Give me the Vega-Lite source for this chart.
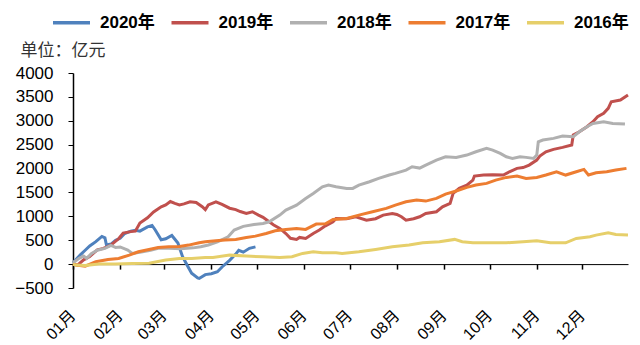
{
  "$schema": "https://vega.github.io/schema/vega-lite/v6.json",
  "autosize": {"type": "none"},
  "padding": {"left": 73, "top": 73, "right": 12, "bottom": 57},
  "width": 555,
  "height": 215,
  "background": "white",
  "config": {"view": {"stroke": null}, "font": "Liberation Sans, Noto Sans CJK SC"},
  "data": {"values": [
    {"s":"2020年","d":"2020/01/01","v":30},{"s":"2020年","d":"2020/01/06","v":200},{"s":"2020年","d":"2020/01/09","v":290},{"s":"2020年","d":"2020/01/12","v":380},{"s":"2020年","d":"2020/01/16","v":470},{"s":"2020年","d":"2020/01/20","v":580},{"s":"2020年","d":"2020/01/22","v":550},{"s":"2020年","d":"2020/01/23","v":400},{"s":"2020年","d":"2020/01/26","v":420},{"s":"2020年","d":"2020/01/29","v":500},{"s":"2020年","d":"2020/02/01","v":540},{"s":"2020年","d":"2020/02/04","v":640},{"s":"2020年","d":"2020/02/08","v":690},{"s":"2020年","d":"2020/02/11","v":710},{"s":"2020年","d":"2020/02/14","v":690},{"s":"2020年","d":"2020/02/19","v":780},{"s":"2020年","d":"2020/02/22","v":810},{"s":"2020年","d":"2020/02/24","v":720},{"s":"2020年","d":"2020/02/28","v":510},{"s":"2020年","d":"2020/03/02","v":530},{"s":"2020年","d":"2020/03/06","v":600},{"s":"2020年","d":"2020/03/10","v":440},{"s":"2020年","d":"2020/03/13","v":160},{"s":"2020年","d":"2020/03/16","v":-20},{"s":"2020年","d":"2020/03/19","v":-190},{"s":"2020年","d":"2020/03/23","v":-290},{"s":"2020年","d":"2020/03/24","v":-300},{"s":"2020年","d":"2020/03/28","v":-220},{"s":"2020年","d":"2020/04/01","v":-200},{"s":"2020年","d":"2020/04/05","v":-160},{"s":"2020年","d":"2020/04/08","v":-60},{"s":"2020年","d":"2020/04/13","v":80},{"s":"2020年","d":"2020/04/17","v":210},{"s":"2020年","d":"2020/04/19","v":290},{"s":"2020年","d":"2020/04/22","v":250},{"s":"2020年","d":"2020/04/26","v":330},{"s":"2020年","d":"2020/04/30","v":360},

    {"s":"2019年","d":"2020/01/01","v":0},{"s":"2019年","d":"2020/01/04","v":-20},{"s":"2019年","d":"2020/01/08","v":90},{"s":"2019年","d":"2020/01/12","v":160},{"s":"2019年","d":"2020/01/17","v":300},{"s":"2019年","d":"2020/01/21","v":330},{"s":"2019年","d":"2020/01/26","v":400},{"s":"2019年","d":"2020/01/31","v":530},{"s":"2019年","d":"2020/02/03","v":650},{"s":"2019年","d":"2020/02/08","v":680},{"s":"2019年","d":"2020/02/11","v":690},{"s":"2019年","d":"2020/02/14","v":860},{"s":"2019年","d":"2020/02/19","v":970},{"s":"2019年","d":"2020/02/23","v":1090},{"s":"2019年","d":"2020/02/28","v":1200},{"s":"2019年","d":"2020/03/02","v":1240},{"s":"2019年","d":"2020/03/05","v":1310},{"s":"2019年","d":"2020/03/08","v":1270},{"s":"2019年","d":"2020/03/11","v":1240},{"s":"2019年","d":"2020/03/14","v":1260},{"s":"2019年","d":"2020/03/18","v":1305},{"s":"2019年","d":"2020/03/22","v":1290},{"s":"2019年","d":"2020/03/26","v":1200},{"s":"2019年","d":"2020/03/28","v":1140},{"s":"2019年","d":"2020/03/30","v":1240},{"s":"2019年","d":"2020/04/04","v":1305},{"s":"2019年","d":"2020/04/08","v":1250},{"s":"2019年","d":"2020/04/13","v":1170},{"s":"2019年","d":"2020/04/17","v":1140},{"s":"2019年","d":"2020/04/20","v":1100},{"s":"2019年","d":"2020/04/24","v":1060},{"s":"2019年","d":"2020/04/28","v":1096},{"s":"2019年","d":"2020/05/02","v":1026},{"s":"2019年","d":"2020/05/05","v":980},{"s":"2019年","d":"2020/05/09","v":886},{"s":"2019年","d":"2020/05/12","v":820},{"s":"2019年","d":"2020/05/16","v":747},{"s":"2019年","d":"2020/05/20","v":640},{"s":"2019年","d":"2020/05/23","v":540},{"s":"2019年","d":"2020/05/27","v":517},{"s":"2019年","d":"2020/05/29","v":559},{"s":"2019年","d":"2020/06/02","v":538},{"s":"2019年","d":"2020/06/07","v":642},{"s":"2019年","d":"2020/06/11","v":712},{"s":"2019年","d":"2020/06/15","v":800},{"s":"2019年","d":"2020/06/20","v":886},{"s":"2019年","d":"2020/06/22","v":956},{"s":"2019年","d":"2020/06/29","v":950},{"s":"2019年","d":"2020/07/05","v":990},{"s":"2019年","d":"2020/07/12","v":921},{"s":"2019年","d":"2020/07/18","v":950},{"s":"2019年","d":"2020/07/23","v":1026},{"s":"2019年","d":"2020/07/29","v":1061},{"s":"2019年","d":"2020/08/01","v":1040},{"s":"2019年","d":"2020/08/04","v":991},{"s":"2019年","d":"2020/08/07","v":921},{"s":"2019年","d":"2020/08/12","v":950},{"s":"2019年","d":"2020/08/16","v":991},{"s":"2019年","d":"2020/08/20","v":1061},{"s":"2019年","d":"2020/08/27","v":1096},{"s":"2019年","d":"2020/08/31","v":1200},{"s":"2019年","d":"2020/09/05","v":1270},{"s":"2019年","d":"2020/09/07","v":1480},{"s":"2019年","d":"2020/09/11","v":1585},{"s":"2019年","d":"2020/09/16","v":1654},{"s":"2019年","d":"2020/09/20","v":1759},{"s":"2019年","d":"2020/09/21","v":1843},{"s":"2019年","d":"2020/09/27","v":1864},{"s":"2019年","d":"2020/10/03","v":1870},{"s":"2019年","d":"2020/10/10","v":1864},{"s":"2019年","d":"2020/10/14","v":1933},{"s":"2019年","d":"2020/10/19","v":2004},{"s":"2019年","d":"2020/10/23","v":2020},{"s":"2019年","d":"2020/10/27","v":2073},{"s":"2019年","d":"2020/11/01","v":2178},{"s":"2019年","d":"2020/11/03","v":2261},{"s":"2019年","d":"2020/11/07","v":2352},{"s":"2019年","d":"2020/11/12","v":2401},{"s":"2019年","d":"2020/11/18","v":2443},{"s":"2019年","d":"2020/11/24","v":2492},{"s":"2019年","d":"2020/11/25","v":2701},{"s":"2019年","d":"2020/11/29","v":2770},{"s":"2019年","d":"2020/12/04","v":2875},{"s":"2019年","d":"2020/12/08","v":2980},{"s":"2019年","d":"2020/12/11","v":3084},{"s":"2019年","d":"2020/12/15","v":3155},{"s":"2019年","d":"2020/12/18","v":3260},{"s":"2019年","d":"2020/12/20","v":3399},{"s":"2019年","d":"2020/12/26","v":3434},{"s":"2019年","d":"2020/12/31","v":3539},

    {"s":"2018年","d":"2020/01/01","v":30},{"s":"2018年","d":"2020/01/05","v":120},{"s":"2018年","d":"2020/01/08","v":170},{"s":"2018年","d":"2020/01/10","v":120},{"s":"2018年","d":"2020/01/13","v":220},{"s":"2018年","d":"2020/01/17","v":290},{"s":"2018年","d":"2020/01/22","v":330},{"s":"2018年","d":"2020/01/26","v":390},{"s":"2018年","d":"2020/01/29","v":350},{"s":"2018年","d":"2020/02/01","v":360},{"s":"2018年","d":"2020/02/06","v":293},{"s":"2018年","d":"2020/02/09","v":224},{"s":"2018年","d":"2020/02/14","v":250},{"s":"2018年","d":"2020/02/21","v":290},{"s":"2018年","d":"2020/02/26","v":330},{"s":"2018年","d":"2020/03/04","v":330},{"s":"2018年","d":"2020/03/12","v":320},{"s":"2018年","d":"2020/03/20","v":340},{"s":"2018年","d":"2020/03/25","v":362},{"s":"2018年","d":"2020/03/30","v":400},{"s":"2018年","d":"2020/04/05","v":467},{"s":"2018年","d":"2020/04/12","v":572},{"s":"2018年","d":"2020/04/16","v":712},{"s":"2018年","d":"2020/04/22","v":790},{"s":"2018年","d":"2020/04/29","v":830},{"s":"2018年","d":"2020/05/05","v":851},{"s":"2018年","d":"2020/05/09","v":886},{"s":"2018年","d":"2020/05/16","v":1026},{"s":"2018年","d":"2020/05/20","v":1131},{"s":"2018年","d":"2020/05/27","v":1235},{"s":"2018年","d":"2020/06/02","v":1375},{"s":"2018年","d":"2020/06/07","v":1480},{"s":"2018年","d":"2020/06/13","v":1619},{"s":"2018年","d":"2020/06/17","v":1654},{"s":"2018年","d":"2020/06/22","v":1619},{"s":"2018年","d":"2020/06/29","v":1585},{"s":"2018年","d":"2020/07/03","v":1585},{"s":"2018年","d":"2020/07/07","v":1654},{"s":"2018年","d":"2020/07/14","v":1724},{"s":"2018年","d":"2020/07/20","v":1794},{"s":"2018年","d":"2020/07/27","v":1864},{"s":"2018年","d":"2020/07/31","v":1899},{"s":"2018年","d":"2020/08/07","v":1968},{"s":"2018年","d":"2020/08/11","v":2038},{"s":"2018年","d":"2020/08/16","v":2010},{"s":"2018年","d":"2020/08/20","v":2073},{"s":"2018年","d":"2020/08/27","v":2178},{"s":"2018年","d":"2020/09/02","v":2247},{"s":"2018年","d":"2020/09/09","v":2234},{"s":"2018年","d":"2020/09/16","v":2282},{"s":"2018年","d":"2020/09/22","v":2352},{"s":"2018年","d":"2020/09/29","v":2422},{"s":"2018年","d":"2020/10/03","v":2387},{"s":"2018年","d":"2020/10/08","v":2318},{"s":"2018年","d":"2020/10/12","v":2247},{"s":"2018年","d":"2020/10/16","v":2213},{"s":"2018年","d":"2020/10/21","v":2247},{"s":"2018年","d":"2020/10/25","v":2234},{"s":"2018年","d":"2020/10/30","v":2213},{"s":"2018年","d":"2020/11/01","v":2282},{"s":"2018年","d":"2020/11/02","v":2561},{"s":"2018年","d":"2020/11/05","v":2597},{"s":"2018年","d":"2020/11/12","v":2632},{"s":"2018年","d":"2020/11/18","v":2680},{"s":"2018年","d":"2020/11/25","v":2666},{"s":"2018年","d":"2020/11/29","v":2770},{"s":"2018年","d":"2020/12/04","v":2875},{"s":"2018年","d":"2020/12/08","v":2945},{"s":"2018年","d":"2020/12/15","v":2980},{"s":"2018年","d":"2020/12/21","v":2945},{"s":"2018年","d":"2020/12/29","v":2931},

    {"s":"2017年","d":"2020/01/01","v":0},{"s":"2017年","d":"2020/01/03","v":-21},{"s":"2017年","d":"2020/01/09","v":-42},{"s":"2017年","d":"2020/01/16","v":48},{"s":"2017年","d":"2020/01/24","v":98},{"s":"2017年","d":"2020/01/31","v":119},{"s":"2017年","d":"2020/02/07","v":188},{"s":"2017年","d":"2020/02/13","v":258},{"s":"2017年","d":"2020/02/20","v":307},{"s":"2017年","d":"2020/02/26","v":349},{"s":"2017年","d":"2020/03/04","v":362},{"s":"2017年","d":"2020/03/11","v":370},{"s":"2017年","d":"2020/03/17","v":398},{"s":"2017年","d":"2020/03/24","v":446},{"s":"2017年","d":"2020/03/28","v":470},{"s":"2017年","d":"2020/04/04","v":488},{"s":"2017年","d":"2020/04/10","v":503},{"s":"2017年","d":"2020/04/17","v":517},{"s":"2017年","d":"2020/04/24","v":559},{"s":"2017年","d":"2020/04/30","v":586},{"s":"2017年","d":"2020/05/07","v":642},{"s":"2017年","d":"2020/05/13","v":698},{"s":"2017年","d":"2020/05/20","v":726},{"s":"2017年","d":"2020/05/27","v":747},{"s":"2017年","d":"2020/06/02","v":726},{"s":"2017年","d":"2020/06/09","v":838},{"s":"2017年","d":"2020/06/15","v":845},{"s":"2017年","d":"2020/06/20","v":935},{"s":"2017年","d":"2020/06/29","v":956},{"s":"2017年","d":"2020/07/07","v":1026},{"s":"2017年","d":"2020/07/16","v":1096},{"s":"2017年","d":"2020/07/25","v":1166},{"s":"2017年","d":"2020/07/31","v":1235},{"s":"2017年","d":"2020/08/07","v":1305},{"s":"2017年","d":"2020/08/14","v":1340},{"s":"2017年","d":"2020/08/20","v":1319},{"s":"2017年","d":"2020/08/27","v":1375},{"s":"2017年","d":"2020/09/02","v":1466},{"s":"2017年","d":"2020/09/09","v":1530},{"s":"2017年","d":"2020/09/16","v":1606},{"s":"2017年","d":"2020/09/22","v":1654},{"s":"2017年","d":"2020/09/29","v":1690},{"s":"2017年","d":"2020/10/05","v":1759},{"s":"2017年","d":"2020/10/12","v":1815},{"s":"2017年","d":"2020/10/19","v":1843},{"s":"2017年","d":"2020/10/25","v":1794},{"s":"2017年","d":"2020/11/01","v":1815},{"s":"2017年","d":"2020/11/07","v":1864},{"s":"2017年","d":"2020/11/14","v":1933},{"s":"2017年","d":"2020/11/20","v":1864},{"s":"2017年","d":"2020/11/27","v":1933},{"s":"2017年","d":"2020/12/02","v":1982},{"s":"2017年","d":"2020/12/05","v":1864},{"s":"2017年","d":"2020/12/10","v":1912},{"s":"2017年","d":"2020/12/17","v":1933},{"s":"2017年","d":"2020/12/23","v":1968},{"s":"2017年","d":"2020/12/30","v":2004},

    {"s":"2016年","d":"2020/01/01","v":0},{"s":"2016年","d":"2020/01/03","v":-21},{"s":"2016年","d":"2020/01/09","v":-30},{"s":"2016年","d":"2020/01/18","v":0},{"s":"2016年","d":"2020/01/29","v":0},{"s":"2016年","d":"2020/02/09","v":14},{"s":"2016年","d":"2020/02/20","v":20},{"s":"2016年","d":"2020/03/02","v":84},{"s":"2016年","d":"2020/03/11","v":119},{"s":"2016年","d":"2020/03/19","v":119},{"s":"2016年","d":"2020/03/28","v":140},{"s":"2016年","d":"2020/04/02","v":140},{"s":"2016年","d":"2020/04/13","v":188},{"s":"2016年","d":"2020/04/24","v":168},{"s":"2016年","d":"2020/05/05","v":153},{"s":"2016年","d":"2020/05/16","v":140},{"s":"2016年","d":"2020/05/24","v":153},{"s":"2016年","d":"2020/05/31","v":224},{"s":"2016年","d":"2020/06/07","v":258},{"s":"2016年","d":"2020/06/13","v":237},{"s":"2016年","d":"2020/06/22","v":237},{"s":"2016年","d":"2020/06/26","v":224},{"s":"2016年","d":"2020/07/07","v":258},{"s":"2016年","d":"2020/07/18","v":307},{"s":"2016年","d":"2020/07/29","v":362},{"s":"2016年","d":"2020/08/09","v":398},{"s":"2016年","d":"2020/08/18","v":446},{"s":"2016年","d":"2020/08/29","v":467},{"s":"2016年","d":"2020/09/08","v":517},{"s":"2016年","d":"2020/09/13","v":467},{"s":"2016年","d":"2020/09/20","v":446},{"s":"2016年","d":"2020/10/01","v":446},{"s":"2016年","d":"2020/10/12","v":446},{"s":"2016年","d":"2020/10/23","v":467},{"s":"2016年","d":"2020/11/01","v":488},{"s":"2016年","d":"2020/11/10","v":446},{"s":"2016年","d":"2020/11/20","v":446},{"s":"2016年","d":"2020/11/27","v":538},{"s":"2016年","d":"2020/12/06","v":572},{"s":"2016年","d":"2020/12/10","v":607},{"s":"2016年","d":"2020/12/18","v":656},{"s":"2016年","d":"2020/12/23","v":621},{"s":"2016年","d":"2020/12/31","v":607}
  ]},
  "mark": {"type": "line", "strokeWidth": 3, "interpolate": "linear"},
  "encoding": {
    "x": {
      "field": "d", "type": "temporal",
      "scale": {"domain": [{"year": 2020, "month": 1, "date": 1}, {"year": 2020, "month": 12, "date": 31}]},
      "axis": {
        "title": null, "format": "%m月", "tickCount": {"interval": "month", "step": 1},
        "offset": -23.9, "domainColor": "#000", "domainWidth": 1, "tickColor": "#000", "tickSize": 5, "tickWidth": 1.5,
        "labelAngle": -45, "labelPadding": 38, "labelOffset": -6, "labelFontSize": 16, "labelColor": "#000", "grid": false,
        "labelFont": "Liberation Sans, Noto Sans CJK SC"
      }
    },
    "y": {
      "field": "v", "type": "quantitative",
      "scale": {"domain": [-500, 4000], "nice": false, "zero": false},
      "axis": {
        "values": [-500, 0, 500, 1000, 1500, 2000, 2500, 3000, 3500, 4000], "format": "d",
        "grid": false, "domainColor": "#000", "domainWidth": 1.5, "tickColor": "#000", "tickSize": 5,
        "labelFontSize": 17, "labelColor": "#000", "labelPadding": 15, "labelFont": "Liberation Sans",
        "title": "单位：亿元", "titleAngle": 0, "titleX": -53, "titleY": -23, "titleAlign": "left", "titleBaseline": "middle",
        "titleFontSize": 17, "titleFontWeight": "normal", "titleColor": "#333", "titleFont": "Noto Sans CJK SC"
      }
    },
    "color": {
      "field": "s", "type": "nominal",
      "scale": {"domain": ["2020年", "2019年", "2018年", "2017年", "2016年"], "range": ["#4f81bd", "#c0504d", "#b0b0b0", "#ed7d31", "#e6cf6a"]},
      "legend": {
        "title": null, "orient": "none", "direction": "horizontal", "legendX": -22, "legendY": -71,
        "symbolType": "stroke", "symbolSize": 1369, "symbolStrokeWidth": 3.5, "labelOffset": 8,
        "labelFontSize": 17, "labelFontWeight": "bold", "labelColor": "#000", "labelFont": "Liberation Sans, Noto Sans CJK SC",
        "columnPadding": 9.5, "padding": 0, "gridAlign": "all", "labelLimit": 200
      }
    }
  }
}
